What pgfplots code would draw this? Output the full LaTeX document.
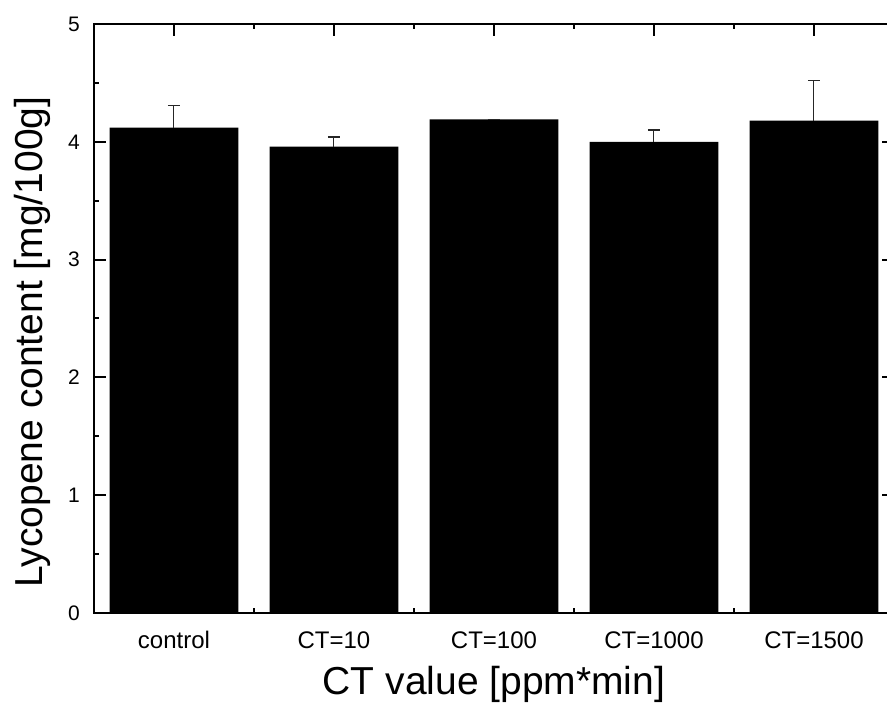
\documentclass[border=0pt]{standalone}
\usepackage{pgfplots}
\pgfplotsset{compat=1.18}
\usepackage{fontspec}
\setmainfont{Liberation Sans}
\begin{document}
\begin{tikzpicture}
  \begin{axis}[
    scale only axis,
    width=400pt, height=294.5pt,
    xmin=-0.5, xmax=4.5,
    ymin=0, ymax=5,
    ytick={0,1,2,3,4,5},
    minor ytick={0.5,1.5,2.5,3.5,4.5},
    xtick={0,1,2,3,4},
    minor xtick={0.5,1.5,2.5,3.5},
    xticklabels={control,CT=10,CT=100,CT=1000,CT=1500},
    tick align=inside,
    tick pos=both,
    xticklabel pos=bottom,
    yticklabel pos=left,
    major tick length=6pt,
    minor tick length=2.5pt,
    every tick/.style={black, line width=1pt},
    axis line style={line width=1pt},
    /pgf/number format/assume math mode=true,
    xticklabel style={font=\fontsize{12}{14}\selectfont, anchor=base, yshift=-17.5pt},
    yticklabel style={font=\fontsize{10.5}{12}\selectfont, xshift=-3.5pt},
    xlabel={CT value [ppm*min]},
    ylabel={Lycopene content [mg/100g]},
    label style={font=\fontsize{19.5}{23}\selectfont},
    xlabel style={at={(axis description cs:0.5,-0.122)}, anchor=center},
    ylabel style={at={(axis description cs:-0.077,0.46)}, anchor=center, rotate=0},
  ]
    \addplot[ybar, bar width=0.806, fill=black, draw=none,
      error bars/.cd, y dir=plus, y explicit,
      error bar style={line width=0.5pt, black!85},
      error mark options={rotate=90, mark size=3pt, line width=0.6pt, black!85}]
      coordinates {
        (0,4.12) +- (0,0.19)
        (1,3.96) +- (0,0.08)
        (2,4.19) +- (0,0.0)
        (3,4.00) +- (0,0.10)
        (4,4.18) +- (0,0.34)
      };
    \coordinate (bbSW) at (rel axis cs:-0.1175,-0.1596);
    \coordinate (bbNE) at (rel axis cs:0.99125,1.04075);
  \end{axis}
  \pgfresetboundingbox
  \useasboundingbox (bbSW) rectangle (bbNE);
\end{tikzpicture}
\end{document}
